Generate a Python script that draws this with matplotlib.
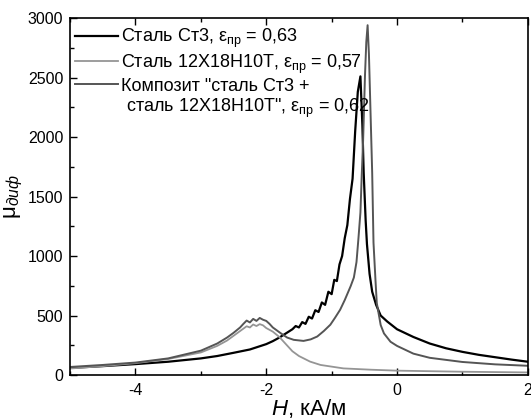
import matplotlib
matplotlib.use("Agg")
import matplotlib.pyplot as plt
from matplotlib.ticker import MultipleLocator

plt.rcParams['font.family'] = ['Liberation Sans', 'DejaVu Sans']
plt.rcParams['mathtext.fontset'] = 'custom'
plt.rcParams['mathtext.rm'] = 'Liberation Sans'
plt.rcParams['mathtext.it'] = 'Liberation Sans:italic'
plt.rcParams['axes.unicode_minus'] = False

# Сталь Ст3
h_st3 = [-5.0, -4.5, -4.0, -3.5, -3.0, -2.75, -2.5, -2.25, -2.0, -1.9, -1.8, -1.7,
         -1.6, -1.55, -1.5, -1.45, -1.4, -1.35, -1.3, -1.25, -1.2, -1.15, -1.1,
         -1.05, -1.0, -0.96, -0.92, -0.88, -0.84, -0.8, -0.76, -0.72, -0.68, -0.66,
         -0.64, -0.6, -0.56, -0.53, -0.51, -0.48, -0.46, -0.42, -0.38, -0.32, -0.25,
         -0.15, 0.0, 0.25, 0.5, 0.75, 1.0, 1.25, 1.5, 1.75, 2.0]
mu_st3 = [60, 75, 92, 112, 140, 160, 187, 215, 260, 285, 315, 350,
          385, 412, 400, 445, 430, 490, 475, 545, 530, 610, 590,
          700, 680, 800, 790, 930, 1000, 1150, 1260, 1480, 1650, 1850,
          2050, 2380, 2510, 2100, 1700, 1300, 1100, 850, 700, 590, 500,
          450, 385, 320, 265, 225, 195, 170, 150, 130, 112]

# Сталь 12Х18Н10Т
h_12x = [-5.0, -4.5, -4.0, -3.5, -3.0, -2.75, -2.6, -2.5, -2.4, -2.35, -2.3, -2.25,
         -2.2, -2.15, -2.1, -2.05, -2.0, -1.9, -1.8, -1.7, -1.6, -1.5, -1.33, -1.17,
         -0.82, -0.4, 0.0, 1.0, 2.0]
mu_12x = [55, 75, 100, 135, 190, 245, 290, 330, 370, 390, 410, 400,
          425, 412, 428, 418, 395, 365, 320, 260, 200, 160, 113, 85,
          56, 45, 37, 28, 22]

# Композит
h_comp = [-5.0, -4.5, -4.0, -3.5, -3.0, -2.75, -2.6, -2.5, -2.4, -2.35, -2.3, -2.25,
          -2.2, -2.15, -2.1, -2.05, -2.0, -1.95, -1.9, -1.78, -1.68, -1.58, -1.43, -1.32,
          -1.22, -1.12, -1.02, -0.95, -0.87, -0.8, -0.71, -0.66, -0.62, -0.59, -0.56, -0.54,
          -0.52, -0.49, -0.47, -0.45, -0.43, -0.41, -0.38, -0.36, -0.33, -0.31, -0.25, -0.2,
          -0.1, 0.0, 0.25, 0.5, 1.0, 1.5, 2.0]
mu_comp = [68, 85, 105, 140, 205, 265, 315, 355, 400, 430, 458, 442,
           472, 455, 480, 465, 455, 430, 400, 352, 315, 296, 287, 300,
           324, 370, 423, 480, 549, 630, 746, 820, 950, 1150, 1366, 1676,
           1950, 2520, 2800, 2940, 2700, 2300, 1700, 1113, 800, 606, 420, 350,
           280, 245, 180, 145, 110, 90, 78]

labels = ['Сталь Ст3, ε$_{\\mathrm{пр}}$ = 0,63',
          'Сталь 12Х18Н10Т, ε$_{\\mathrm{пр}}$ = 0,57',
          'Композит "сталь Ст3 +',
          ' сталь 12Х18Н10Т", ε$_{\\mathrm{пр}}$ = 0,62']

fig = plt.figure(figsize=(5.31, 4.2), dpi=100)
ax = fig.add_axes([0.132, 0.107, 0.862, 0.850])

ax.plot(h_st3, mu_st3, color='black', lw=1.6, label=labels[0])
ax.plot(h_12x, mu_12x, color='#959595', lw=1.3, label=labels[1])
ax.plot(h_comp, mu_comp, color='#555555', lw=1.4, label=labels[2])
ax.plot([], [], color='none', label=labels[3])

ax.set_xlim(-5, 2)
ax.set_ylim(0, 3000)
ax.xaxis.set_major_locator(MultipleLocator(2))
ax.xaxis.set_minor_locator(MultipleLocator(1))
ax.yaxis.set_major_locator(MultipleLocator(500))
ax.yaxis.set_minor_locator(MultipleLocator(250))
ax.tick_params(which='both', direction='in', top=True, right=False, labelsize=11.5)
ax.tick_params(which='major', length=5, width=1)
ax.tick_params(which='minor', length=3, width=1)
ax.tick_params(axis='x', pad=6)
ax.tick_params(axis='y', pad=5)
for s in ax.spines.values():
    s.set_linewidth(1.2)

ax.set_xlabel(r'$H$, кА/м', fontsize=16, labelpad=-1, x=0.52)
ax.set_ylabel(r'$\mathrm{\mu}_{\mathit{диф}}$', fontsize=16, labelpad=2)

ax.legend(loc='upper left', frameon=False, fontsize=13, handlelength=2.4,
          handletextpad=0.15, borderaxespad=0.0, borderpad=0.1, labelspacing=0.12,
          bbox_to_anchor=(0.007, 0.98))

fig.savefig('out.png', dpi=100)
